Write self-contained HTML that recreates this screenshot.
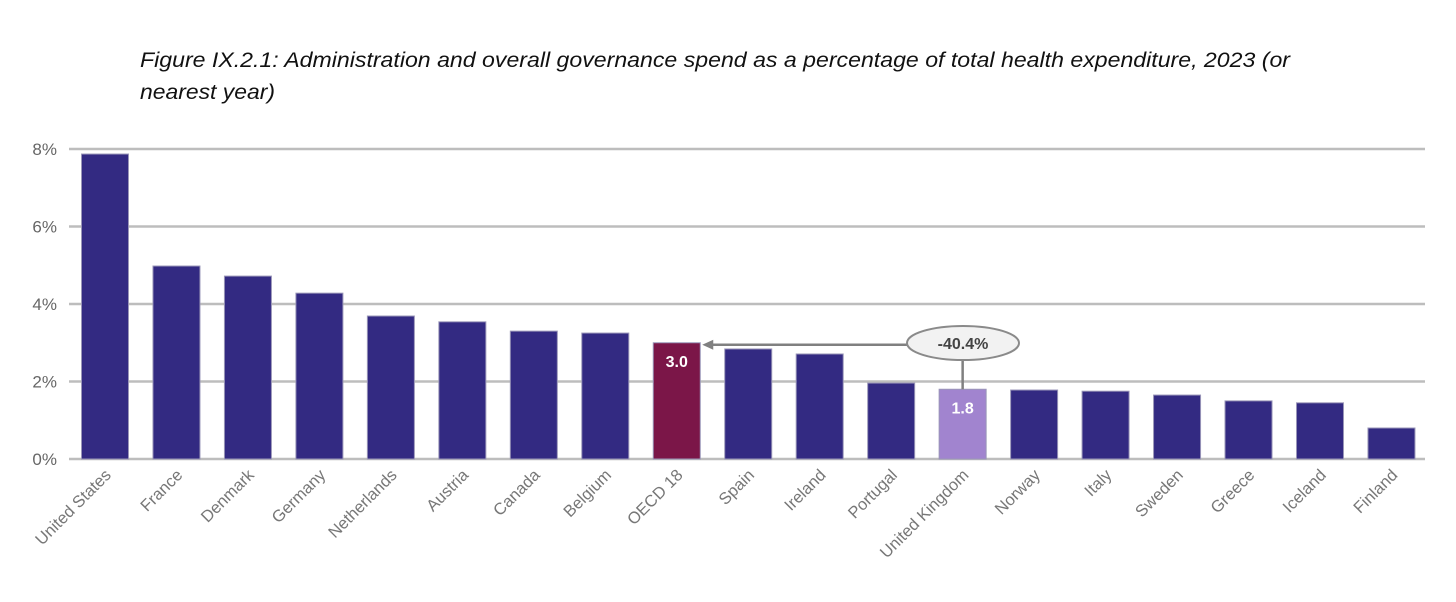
<!DOCTYPE html>
<html><head><meta charset="utf-8"><style>
html,body{margin:0;padding:0;background:#fff;width:1456px;height:602px;overflow:hidden}
svg{display:block;font-family:"Liberation Sans",sans-serif}
</style></head><body>
<svg id="chart" width="1456" height="602">
<text x="140" y="67" font-size="21" font-style="italic" fill="#111" textLength="1150" lengthAdjust="spacingAndGlyphs">Figure IX.2.1: Administration and overall governance spend as a percentage of total health expenditure, 2023 (or</text>
<text x="140" y="99" font-size="21" font-style="italic" fill="#111" textLength="135" lengthAdjust="spacingAndGlyphs">nearest year)</text>
<g id="grid"></g><g id="bars"></g><g id="labels"></g><g id="annot"></g>
</svg>
<script>
const categories=["United States","France","Denmark","Germany","Netherlands","Austria","Canada","Belgium","OECD 18","Spain","Ireland","Portugal","United Kingdom","Norway","Italy","Sweden","Greece","Iceland","Finland"];
const values=[7.87,4.98,4.72,4.28,3.69,3.54,3.30,3.25,3.0,2.84,2.71,1.96,1.8,1.78,1.75,1.65,1.5,1.45,0.8];
const yTicks=[0,2,4,6,8];
const yTickLabels=["0%","2%","4%","6%","8%"];
const printedValues={8:"3.0",12:"1.8"};
const changeLabel="-40.4%";
const NS="http://www.w3.org/2000/svg";
const y0=459,pxPer=38.75,x0=105,step=71.47,bw=47;
const Y=v=>y0-v*pxPer, X=i=>x0+i*step;
function el(t,a,p){const e=document.createElementNS(NS,t);for(const k in a)e.setAttribute(k,a[k]);p.appendChild(e);return e;}
const grid=document.getElementById('grid'),bars=document.getElementById('bars'),labels=document.getElementById('labels'),annot=document.getElementById('annot');
yTicks.forEach((t,i)=>{
 const l=el('line',{x1:69,x2:1425,y1:Y(t),y2:Y(t),stroke:'#bdbdbd','stroke-width':2.5},grid);
 
 
 const tx=el('text',{x:57,y:Y(t)+6,'text-anchor':'end','font-size':17,fill:'#666'},grid);
 tx.textContent=yTickLabels[i];
 
 
});
categories.forEach((c,i)=>{
 const fill=i===8?'#7b1648':(i===12?'#a184cf':'#332a82');
 const r=el('rect',{x:X(i)-bw/2,y:Y(values[i]),width:bw,height:y0-Y(values[i]),fill:fill,stroke:'#9a96b8','stroke-width':1},bars);
 
 
 if(printedValues[i]){
  const v=el('text',{x:X(i),y:Y(values[i])+24,'text-anchor':'middle','font-size':16,'font-weight':'bold',fill:'#fff'},bars);
  v.textContent=printedValues[i];
  
  
 }
 const lx=X(i)+7,ly=y0+17;
 const t=el('text',{x:lx,y:ly,'text-anchor':'end','font-size':16.5,fill:'#777',transform:`rotate(-45 ${lx} ${ly})`},labels);
 t.textContent=c;
 
 
});
const ux=X(12),oy=Y(values[8]),ex=963,ey=343;
const l1=el('line',{x1:ux,y1:Y(values[12]),x2:ux,y2:ey,stroke:'#808080','stroke-width':2.5},annot);


const l2=el('line',{x1:ex-55,y1:oy+2,x2:X(8)+bw/2+10,y2:oy+2,stroke:'#808080','stroke-width':2.5},annot);


const ah=el('polygon',{points:`${X(8)+bw/2+2},${oy+2} ${X(8)+bw/2+13},${oy-3} ${X(8)+bw/2+13},${oy+7}`,fill:'#808080'},annot);


const ell=el('ellipse',{cx:ex,cy:ey,rx:56,ry:17,fill:'#f2f2f2',stroke:'#8a8a8a','stroke-width':2},annot);


const ct=el('text',{x:ex,y:ey+6,'text-anchor':'middle','font-size':16,'font-weight':'bold',fill:'#444'},annot);
ct.textContent=changeLabel;


</script>
</body></html>
